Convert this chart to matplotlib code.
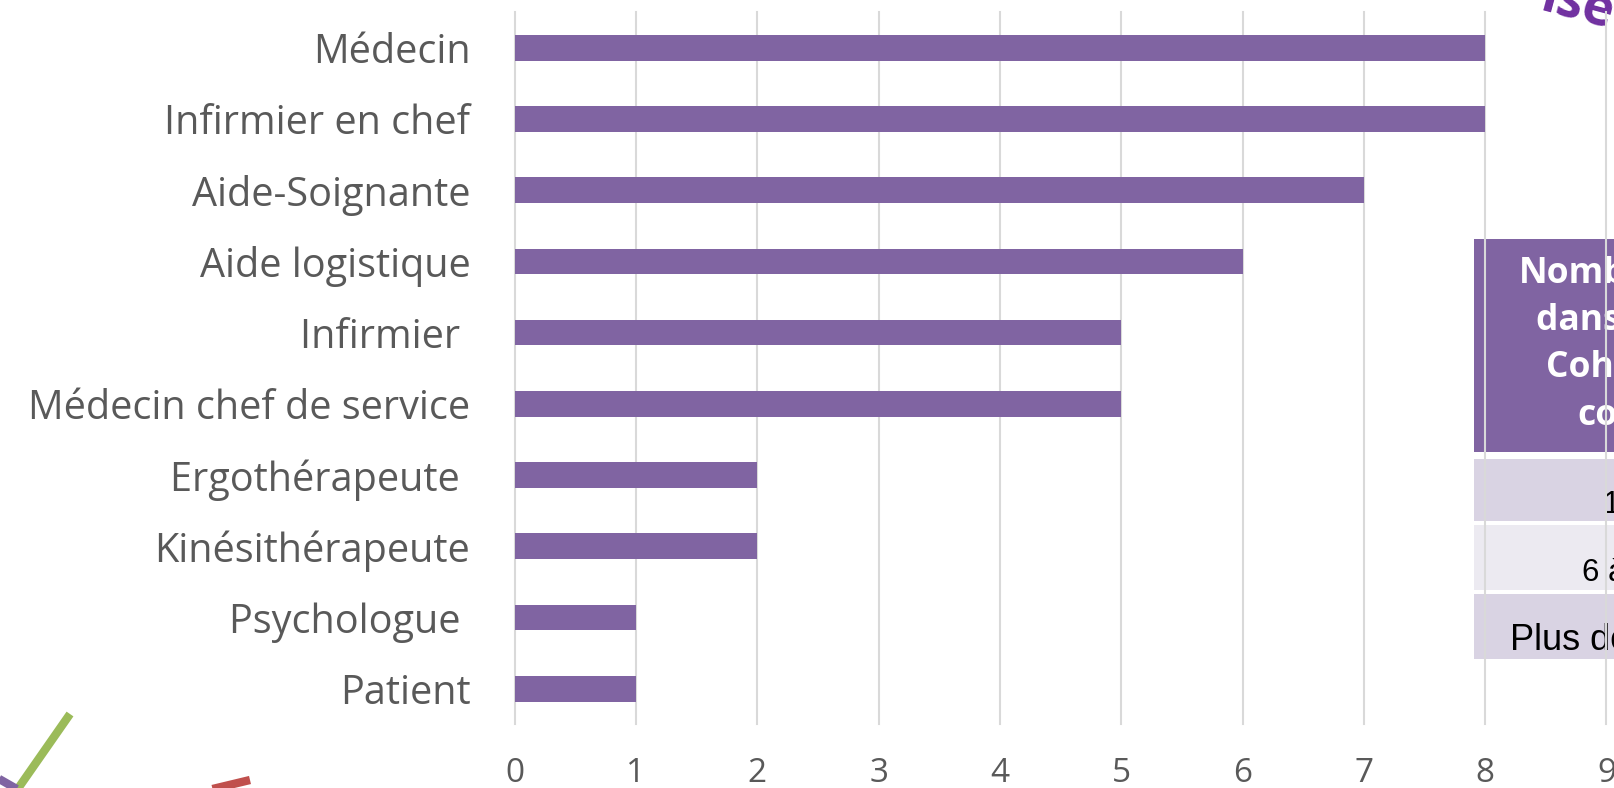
import matplotlib
matplotlib.use("Agg")
import matplotlib.pyplot as plt
from matplotlib.patches import Rectangle
from matplotlib.lines import Line2D

# data
categories = [
    "Médecin",
    "Infirmier en chef",
    "Aide-Soignante",
    "Aide logistique",
    "Infirmier ",
    "Médecin chef de service",
    "Ergothérapeute ",
    "Kinésithérapeute",
    "Psychologue ",
    "Patient",
]
counts = [8, 8, 7, 6, 5, 5, 2, 2, 1, 1]
x_ticks = [0, 1, 2, 3, 4, 5, 6, 7, 8, 9]

# partial table sitting at the right edge of the slide
table_header = ["Nombre", "dans la", "Cohorte", "col"]
table_rows = ["1 à 5 ans", "6 à 10 ans", "Plus de 10 ans"]

purple = "#8064A2"
grey_text = "#595959"
W, H = 1614, 788

plt.rcParams["font.family"] = ["Open Sans", "DejaVu Sans"]

fig = plt.figure(figsize=(W / 100, H / 100), dpi=100)
fig.patch.set_facecolor("white")


def fx(px):
    return px / W


def fy(py):
    return (H - py) / H


# table behind the chart
fig.patches.append(Rectangle((fx(1474), fy(452)), fx(W + 10) - fx(1474), fy(239) - fy(452),
                             transform=fig.transFigure, facecolor=purple, edgecolor="none", zorder=-2))
row_spans = [(459, 521), (525, 590), (594, 659)]
row_cols = ["#D9D3E3", "#ECEAF1", "#D9D3E3"]
for (top, bot), c in zip(row_spans, row_cols):
    fig.patches.append(Rectangle((fx(1474), fy(bot)), fx(W + 10) - fx(1474), fy(top) - fy(bot),
                                 transform=fig.transFigure, facecolor=c, edgecolor="none", zorder=-2))

head_x = [1519, 1536, 1546, 1577]
head_y = [274, 321, 368, 416]
for t, x, y in zip(table_header, head_x, head_y):
    fig.text(fx(x), fy(y), t, color="white", fontsize=25.5, fontweight="bold",
             ha="left", va="center", zorder=-1)

row_x = [1603, 1582, 1510]
row_y = [505, 573, 640]
row_size = [22.5, 22.5, 26]
for t, x, y, s in zip(table_rows, row_x, row_y, row_size):
    fig.text(fx(x), fy(y), t, color="black", fontsize=s, family="Liberation Sans",
             ha="left", va="center", zorder=-1)

# bit of WordArt title poking in at the top right
fig.text(fx(1574), fy(19), "ise", color="#7030A0", fontsize=38, fontweight="bold",
         rotation=-15, rotation_mode="anchor", ha="center", va="baseline", zorder=-1)

# decorative strokes bottom left
deco = [
    ((70, 714), (17, 790), "#9BBB59"),
    ((-6, 776), (22, 792), purple),
    ((250, 780), (200, 792), "#C0504D"),
]
for (x1, y1), (x2, y2), c in deco:
    fig.lines.append(Line2D([fx(x1), fx(x2)], [fy(y1), fy(y2)], transform=fig.transFigure,
                            color=c, linewidth=6, solid_capstyle="butt"))

# main chart
ax = fig.add_axes([514.7 / W, (H - 724.3) / H, 1091.8 / W, (724.3 - 12.2) / H])
ax.set_facecolor("none")

y_pos = list(range(len(categories)))
ax.barh(y_pos, counts, height=0.36, color=purple, zorder=3)

ax.set_xlim(0, 9)
ax.set_ylim(len(categories) - 0.5, -0.5)
ax.set_xticks(x_ticks)
ax.set_xticklabels([str(v) for v in x_ticks])
ax.set_yticks(y_pos)
ax.set_yticklabels(categories)

ax.xaxis.grid(True, color="#D9D9D9", linewidth=1.5)
for gl in ax.get_xgridlines():
    gl.set_clip_on(False)
ax.set_axisbelow(True)
for s in ax.spines.values():
    s.set_visible(False)

ax.tick_params(axis="y", length=0, pad=32, labelsize=28.5, labelcolor=grey_text)
ax.tick_params(axis="x", length=0, pad=23.5, labelsize=24, labelcolor=grey_text)

fig.savefig("out.png", dpi=100)
